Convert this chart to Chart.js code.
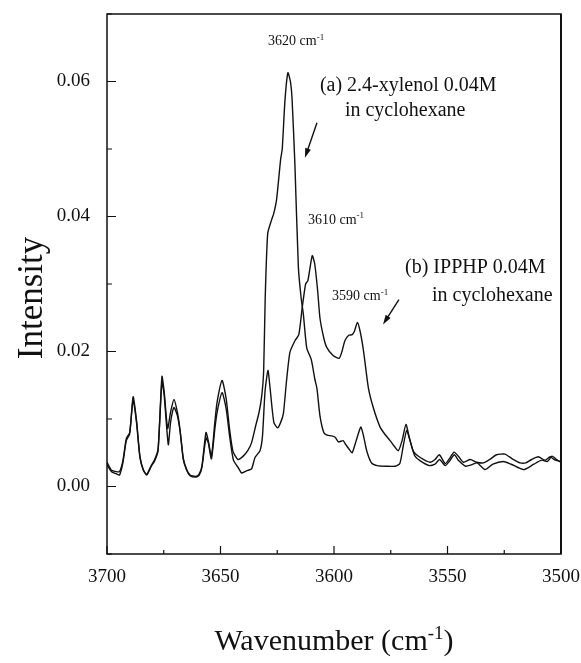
<!DOCTYPE html>
<html>
<head>
<meta charset="utf-8">
<script src="https://cdn.jsdelivr.net/npm/chart.js@4.4.1/dist/chart.umd.min.js"></script>
<style>
  html, body { margin: 0; padding: 0; background: #fff; }
</style>
</head>
<body>
<canvas id="myChart" width="581" height="663"></canvas>
<script>
// (a) 2.4-xylenol 0.04M in cyclohexane
const waveA = [3700, 3698, 3696, 3694.5, 3693, 3691.5, 3690, 3688.5, 3687, 3685.5, 3684, 3682.5, 3680.5, 3679, 3677.5,
    3675.8, 3674.8, 3673.3, 3672, 3670.5, 3669, 3667.8, 3666.4, 3665, 3663.4, 3661, 3659.5, 3658.2, 3656.4, 3655.4,
    3654, 3652.5, 3651.5, 3649.3, 3647.5, 3646, 3644.5, 3642.3, 3640, 3638, 3636.3, 3634.5, 3633, 3631.8, 3631,
    3630.3, 3629.2, 3627.5, 3626.5, 3625.3, 3623.5, 3622.8, 3621.6, 3620.3, 3619.2, 3618.5, 3617.2, 3615.7, 3614.5,
    3613.5, 3612, 3610, 3608.5, 3607.5, 3606.2, 3604.5, 3603, 3601, 3599.5, 3598, 3596, 3595, 3593.5, 3592, 3590.5,
    3588.2, 3587, 3585.6, 3583.5, 3581, 3577, 3573, 3571, 3569.5, 3568, 3566.5, 3564.5, 3562, 3558, 3555.5, 3553.5,
    3551, 3549, 3547, 3545, 3542, 3539.5, 3537, 3533.5, 3530, 3525.5, 3522, 3516.5, 3512, 3508.5, 3506, 3504, 3502, 3500]
const intensA = [0.0032, 0.0022, 0.0019, 0.0017, 0.0035, 0.0068, 0.0078, 0.0133, 0.0098, 0.0045, 0.0025, 0.0017, 0.0030, 0.0038, 0.0053,
    0.0163, 0.0140, 0.0086, 0.0110, 0.0129, 0.0110, 0.0083, 0.0040, 0.0025, 0.0017, 0.0015, 0.0018, 0.0030, 0.0080, 0.0068,
    0.0045, 0.0095, 0.0125, 0.0157, 0.0130, 0.0085, 0.0052, 0.0040, 0.0045, 0.0053, 0.0065, 0.0090, 0.0110, 0.0135, 0.0170,
    0.0280, 0.0375, 0.0395, 0.0405, 0.0425, 0.0485, 0.0500, 0.0572, 0.0613, 0.0600, 0.0576, 0.0475, 0.0325, 0.0280,
    0.0255, 0.0205, 0.0188, 0.0160, 0.0145, 0.0105, 0.0080, 0.0076, 0.0075, 0.0073, 0.0066, 0.0068, 0.0063, 0.0056, 0.0050, 0.0065,
    0.0088, 0.0075, 0.0053, 0.0035, 0.0031, 0.0030, 0.0030, 0.0034, 0.0060, 0.0083, 0.0068, 0.0046, 0.0038, 0.0031, 0.0033, 0.0040,
    0.0031, 0.0038, 0.0047, 0.0038, 0.0030, 0.0032, 0.0035, 0.0025, 0.0033, 0.0037, 0.0033, 0.0025, 0.0033, 0.0039, 0.0037, 0.0045, 0.0040, 0.0036]

// (b) IPPHP 0.04M in cyclohexane
const waveB = [3700, 3698, 3696, 3694.5, 3693, 3691.5, 3690, 3688.5, 3687, 3685.5, 3684, 3682.5, 3680.5, 3679, 3677.5,
    3675.8, 3674.8, 3673, 3672, 3670.5, 3669, 3667.8, 3666.4, 3665, 3663.4, 3661, 3659.5, 3658.2, 3656.4, 3655.4,
    3654, 3652.5, 3651.5, 3649.3, 3647.5, 3646, 3644.3, 3642, 3640.7, 3638, 3636.3, 3634.8, 3632.6, 3631.5, 3630.4,
    3629.1, 3628.2, 3626.5, 3624.8, 3623.5, 3622.3, 3620.9, 3619.4, 3617.2, 3615.5, 3614, 3612.5, 3611.5, 3609.6,
    3608.5, 3607.2, 3606.2, 3604.5, 3603.2, 3600.4, 3597.7, 3596.5, 3595.2, 3593.5, 3592, 3591, 3589.7, 3588.5, 3587,
    3584.9, 3582.7, 3579.7, 3577.5, 3575.3, 3573.5, 3571.7, 3570, 3568.3, 3566.8, 3565, 3562, 3557.7, 3555.5, 3553.6,
    3551, 3549, 3547.1, 3545, 3543, 3540, 3537.2, 3534.2, 3531, 3528.4, 3524.7, 3521.5, 3518, 3515.5, 3513, 3510,
    3507, 3504.8, 3503, 3501.2, 3500]
const intensB = [0.0036, 0.0024, 0.0022, 0.0022, 0.0038, 0.0071, 0.0080, 0.0128, 0.0095, 0.0043, 0.0024, 0.0018, 0.0031, 0.0040, 0.0055,
    0.0155, 0.0135, 0.0062, 0.0095, 0.0117, 0.0105, 0.0082, 0.0042, 0.0026, 0.0016, 0.0014, 0.0016, 0.0028, 0.0072, 0.0065,
    0.0041, 0.0085, 0.0110, 0.0139, 0.0115, 0.0075, 0.0039, 0.0027, 0.0020, 0.0024, 0.0026, 0.0043, 0.0053, 0.0075, 0.0140,
    0.0172, 0.0147, 0.0095, 0.0087, 0.0095, 0.0108, 0.0157, 0.0199, 0.0216, 0.0225, 0.0265, 0.0300, 0.0305, 0.0342,
    0.0330, 0.0290, 0.0250, 0.0220, 0.0206, 0.0194, 0.0190, 0.0200, 0.0216, 0.0224, 0.0225, 0.0230, 0.0243, 0.0230, 0.0201,
    0.0147, 0.0117, 0.0088, 0.0077, 0.0068, 0.0060, 0.0053, 0.0068, 0.0092, 0.0072, 0.0052, 0.0043, 0.0036, 0.0040, 0.0047,
    0.0034, 0.0042, 0.0051, 0.0044, 0.0036, 0.0040, 0.0036, 0.0035, 0.0041, 0.0047, 0.0048, 0.0041, 0.0035, 0.0035, 0.0040, 0.0044,
    0.0039, 0.0044, 0.0040, 0.0038, 0.0037]

// text notes placed in data units (wavenumber, intensity)
const noteText = ['(a) 2.4-xylenol 0.04M', 'in cyclohexane', '(b) IPPHP 0.04M', 'in cyclohexane']
const noteWave = [3606.2, 3595.2, 3568.7, 3556.8]
const noteIntens = [0.0594, 0.0557, 0.0324, 0.0283]

const peakText = ['3620', '3610', '3590']
const peakWave = [3616.7, 3599.1, 3588.5]
const peakIntens = [0.0661, 0.0397, 0.0283]

const arrowFrom = [[3607.5, 0.0539], [3571.4, 0.0277]]
const arrowTo = [[3612.8, 0.0487], [3578.4, 0.0240]]

const FONT = "'Liberation Serif', 'Times New Roman', serif"
const INK = '#111'

function toPoints(xs, ys) {
    let pts = []
    for (let i = 0; i < xs.length; i++) {
        pts.push({x: xs[i], y: ys[i]})
    }
    return pts
}

// "3620 cm-1" with raised -1
function drawWithSup(ctx, base, sup, tail, x, y, size, align) {
    ctx.font = size + 'px ' + FONT
    let w1 = ctx.measureText(base).width
    let supSize = Math.round(size * 0.62)
    ctx.font = supSize + 'px ' + FONT
    let w2 = ctx.measureText(sup).width
    ctx.font = size + 'px ' + FONT
    let w3 = tail ? ctx.measureText(tail).width : 0
    let total = w1 + w2 + w3
    let x0 = align == 'center' ? x - total / 2 : x
    ctx.textAlign = 'left'
    ctx.textBaseline = 'alphabetic'
    ctx.fillText(base, x0, y)
    ctx.font = supSize + 'px ' + FONT
    ctx.fillText(sup, x0 + w1, y - size * 0.38)
    if (tail) {
        ctx.font = size + 'px ' + FONT
        ctx.fillText(tail, x0 + w1 + w2, y)
    }
}

const framePlugin = {
    id: 'frameTicks',
    afterDraw(chart) {
        const {ctx, chartArea: a, scales: {x, y}} = chart
        ctx.save()
        ctx.strokeStyle = INK
        ctx.lineWidth = 1.5
        ctx.strokeRect(a.left, a.top, a.right - a.left, a.bottom - a.top)
        ctx.lineWidth = 2
        ctx.beginPath()
        ctx.moveTo(a.right, a.top)
        ctx.lineTo(a.right, a.bottom)
        ctx.stroke()

        // inward tick marks
        ctx.lineWidth = 1.2
        ctx.beginPath()
        x.ticks.forEach(t => {
            let px = x.getPixelForValue(t.value)
            let len = t.value % 50 === 0 ? 8 : 4
            ctx.moveTo(px, a.bottom)
            ctx.lineTo(px, a.bottom - len)
        })
        y.ticks.forEach(t => {
            let py = y.getPixelForValue(t.value)
            let k = Math.round(t.value * 100)
            let len = k % 2 === 0 ? 9 : 5
            ctx.moveTo(a.left, py)
            ctx.lineTo(a.left + len, py)
        })
        ctx.stroke()

        // axis titles
        ctx.fillStyle = INK
        drawWithSup(ctx, 'Wavenumber (cm', '-1', ')', (a.left + a.right) / 2, 650, 30, 'center')
        ctx.save()
        ctx.translate(33, (a.top + a.bottom) / 2 + 14)
        ctx.rotate(-Math.PI / 2)
        ctx.font = '35px ' + FONT
        ctx.textAlign = 'center'
        ctx.textBaseline = 'middle'
        ctx.fillText('Intensity', 0, 0)
        ctx.restore()
        ctx.restore()
    },
    afterDatasetsDraw(chart) {
        const {ctx, scales: {x, y}} = chart
        ctx.save()
        ctx.fillStyle = INK
        ctx.strokeStyle = INK

        ctx.font = '20px ' + FONT
        ctx.textAlign = 'left'
        ctx.textBaseline = 'middle'
        for (let i = 0; i < noteText.length; i++) {
            ctx.fillText(noteText[i], x.getPixelForValue(noteWave[i]), y.getPixelForValue(noteIntens[i]))
        }

        for (let i = 0; i < peakText.length; i++) {
            drawWithSup(ctx, peakText[i] + ' cm', '-1', '', x.getPixelForValue(peakWave[i]),
                y.getPixelForValue(peakIntens[i]) + 5, 14, 'center')
        }

        // arrows
        for (let i = 0; i < arrowFrom.length; i++) {
            let x1 = x.getPixelForValue(arrowFrom[i][0]), y1 = y.getPixelForValue(arrowFrom[i][1])
            let x2 = x.getPixelForValue(arrowTo[i][0]), y2 = y.getPixelForValue(arrowTo[i][1])
            let ang = Math.atan2(y2 - y1, x2 - x1)
            ctx.lineWidth = 1.4
            ctx.beginPath()
            ctx.moveTo(x1, y1)
            ctx.lineTo(x2 - 4 * Math.cos(ang), y2 - 4 * Math.sin(ang))
            ctx.stroke()
            ctx.beginPath()
            ctx.moveTo(x2, y2)
            ctx.lineTo(x2 - 10 * Math.cos(ang - 0.3), y2 - 10 * Math.sin(ang - 0.3))
            ctx.lineTo(x2 - 10 * Math.cos(ang + 0.3), y2 - 10 * Math.sin(ang + 0.3))
            ctx.closePath()
            ctx.fill()
        }
        ctx.restore()
    }
}

const lineStyle = {
    borderColor: INK,
    borderWidth: 1.4,
    pointRadius: 0,
    tension: 0.2,
    fill: false
}

var canvas = document.getElementById('myChart')
var config = {
    type: 'line',
    data: {
        datasets: [
            Object.assign({label: '(a) 2.4-xylenol 0.04M in cyclohexane', data: toPoints(waveA, intensA)}, lineStyle),
            Object.assign({label: '(b) IPPHP 0.04M in cyclohexane', data: toPoints(waveB, intensB)}, lineStyle)
        ]
    },
    options: {
        responsive: false,
        animation: false,
        layout: {padding: {left: 0, right: 20, top: 14, bottom: 0}},
        plugins: {legend: {display: false}, tooltip: {enabled: false}},
        scales: {
            x: {
                type: 'linear',
                reverse: true,
                min: 3500,
                max: 3700,
                // tick marks are drawn inward by the plugin; tickLength only spaces the labels
                grid: {display: false, drawTicks: true, tickLength: 12},
                border: {display: false},
                ticks: {
                    stepSize: 25,
                    autoSkip: false,
                    maxRotation: 0,
                    padding: 0,
                    color: INK,
                    font: {family: FONT, size: 19},
                    callback: v => (v % 50 === 0 ? String(v) : '')
                },
                afterFit: s => { s.height = 109 }
            },
            y: {
                min: -0.01,
                max: 0.07,
                grid: {display: false, drawTicks: true, tickLength: 17},
                border: {display: false},
                ticks: {
                    stepSize: 0.01,
                    autoSkip: false,
                    padding: 0,
                    color: INK,
                    font: {family: FONT, size: 19},
                    callback: v => {
                        let k = Math.round(v * 100)
                        return (k >= 0 && k <= 6 && k % 2 === 0) ? (k / 100).toFixed(2) : ''
                    }
                },
                afterFit: s => { s.width = 107 }
            }
        }
    },
    plugins: [framePlugin]
}
new Chart(canvas, config)
</script>
</body>
</html>
